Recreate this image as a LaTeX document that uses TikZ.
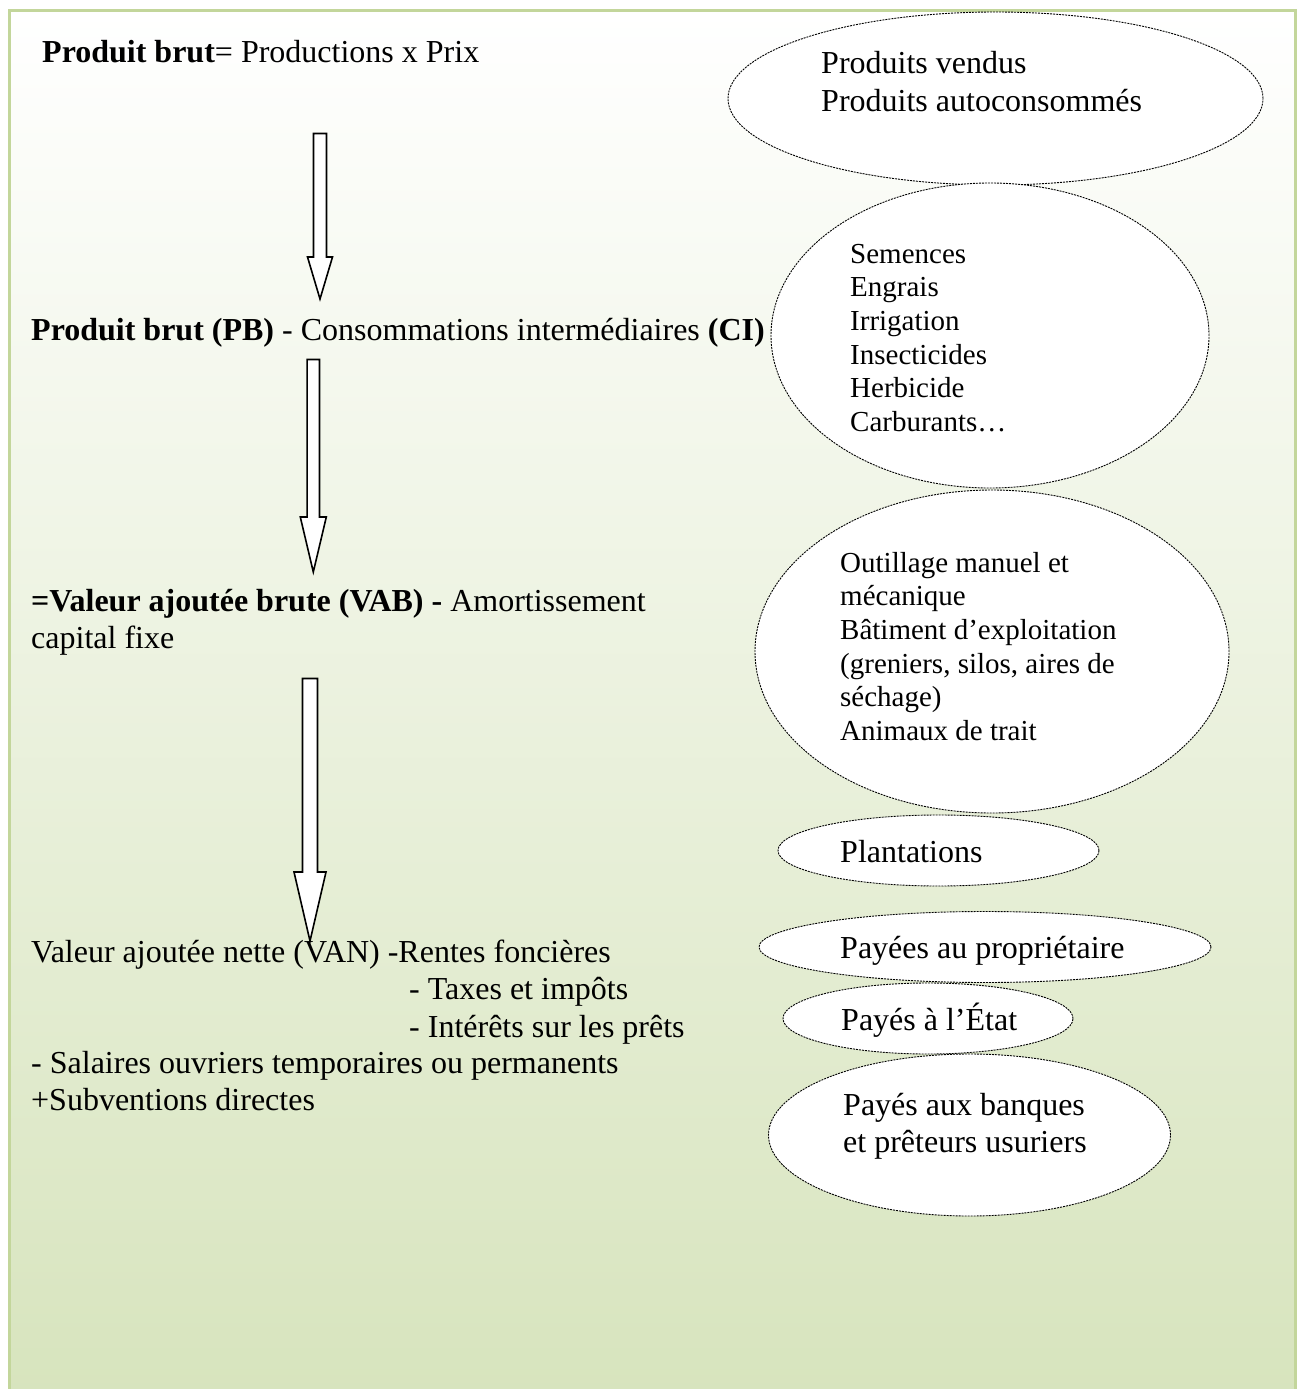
\documentclass[tikz,border=0pt]{standalone}
\usepackage{fontspec}
\setmainfont{Liberation Serif}
\usetikzlibrary{shapes.geometric}
\definecolor{vertfond}{HTML}{D7E4BD}
\definecolor{vertcadre}{HTML}{C3D69B}
\tikzset{
  ovale/.style={ellipse,draw,fill=white,line width=0.9pt,dash pattern=on 2pt off 1pt,inner sep=0pt},
  txt/.style={anchor=base west,inner sep=0pt,font=\fontsize{32}{37}\selectfont},
  ptxt/.style={anchor=base west,inner sep=0pt,font=\fontsize{29}{34}\selectfont},
  fleche/.style={draw,fill=white,line width=1.6pt,line join=miter},
  cadre/.style={draw=vertcadre,line width=3pt},
}

\begin{document}
\begin{tikzpicture}[x=1pt,y=-1pt]
  \useasboundingbox (0,0) rectangle (1301,1389);
  \fill[white] (0,0) rectangle (1301,1389);
  % fond degrade et cadre
  \shade[top color=white,bottom color=vertfond] (9.75,10.75) rectangle (1295.5,1400);
  \draw[cadre] (9.75,10.75) rectangle (1295.5,1400);
  % ovales
  \foreach \n/\cx/\cy/\w/\h in {pb/995.5/98.5/535/173, ci/990/335.5/438/305, am/992/651.5/474/323,
      pl/938.5/850.5/321/71, pr/985/947/452/71, et/928/1018.5/290/71, ba/969.5/1135/402/162}
    \node[ovale,minimum width=\w pt,minimum height=\h pt] (\n) at (\cx,\cy) {};
  % fleches
  \foreach \cx/\sw/\hw/\ya/\yb/\yc in {320/6.5/12.5/133.5/257/299, 313.3/6.2/13/359.5/517/572,
      310/7.5/16/678.5/872/941}
    \draw[fleche] ({\cx-\sw},\ya) -- ({\cx+\sw},\ya) -- ({\cx+\sw},\yb) -- ({\cx+\hw},\yb)
      -- (\cx,\yc) -- ({\cx-\hw},\yb) -- ({\cx-\sw},\yb) -- cycle;
  % colonne de gauche
  \node[txt] (brut) at (42,63) {\textbf{Produit brut}= Productions x Prix};
  \node[txt] (pbci) at (31,340) {\textbf{Produit brut (PB)} - Consommations intermédiaires \textbf{(CI)}};
  \node[txt] (vab) at (31,611) {\textbf{=Valeur ajoutée brute (VAB) -} Amortissement};
  \node[txt] (vab2) at (31,648) {capital fixe};
  \node[txt] (van) at (31,962) {Valeur ajoutée nette (VAN) -Rentes foncières};
  \node[txt] (tax) at (409,999) {- Taxes et impôts};
  \node[txt] (inte) at (409,1037) {- Intérêts sur les prêts};
  \node[txt] (sal) at (31,1073) {- Salaires ouvriers temporaires ou permanents};
  \node[txt] (sub) at (31,1110) {+Subventions directes};
  % textes des ovales
  \foreach \y/\lab [count=\i] in {74/Produits vendus, 111/Produits autoconsommés}
    \node[txt] (pbl\i) at (821,\y) {\lab};
  \foreach \lab [count=\i] in {Semences, Engrais, Irrigation, Insecticides, Herbicide, Carburants…}
    \node[ptxt] (cil\i) at (850,{263+33.7*(\i-1)}) {\lab};
  \foreach \lab [count=\i] in {Outillage manuel et, mécanique, Bâtiment d’exploitation,
      {(greniers, silos, aires de}, séchage), Animaux de trait}
    \node[ptxt] (aml\i) at (840,{572+33.7*(\i-1)}) {\lab};
  \node[txt] (pll) at (840,862) {Plantations};
  \node[txt] (prl) at (840,958) {Payées au propriétaire};
  \node[txt] (etl) at (841,1030) {Payés à l’État};
  \node[txt] (bal1) at (843,1115) {Payés aux banques};
  \node[txt] (bal2) at (843,1152) {et prêteurs usuriers};
\end{tikzpicture}
\end{document}
